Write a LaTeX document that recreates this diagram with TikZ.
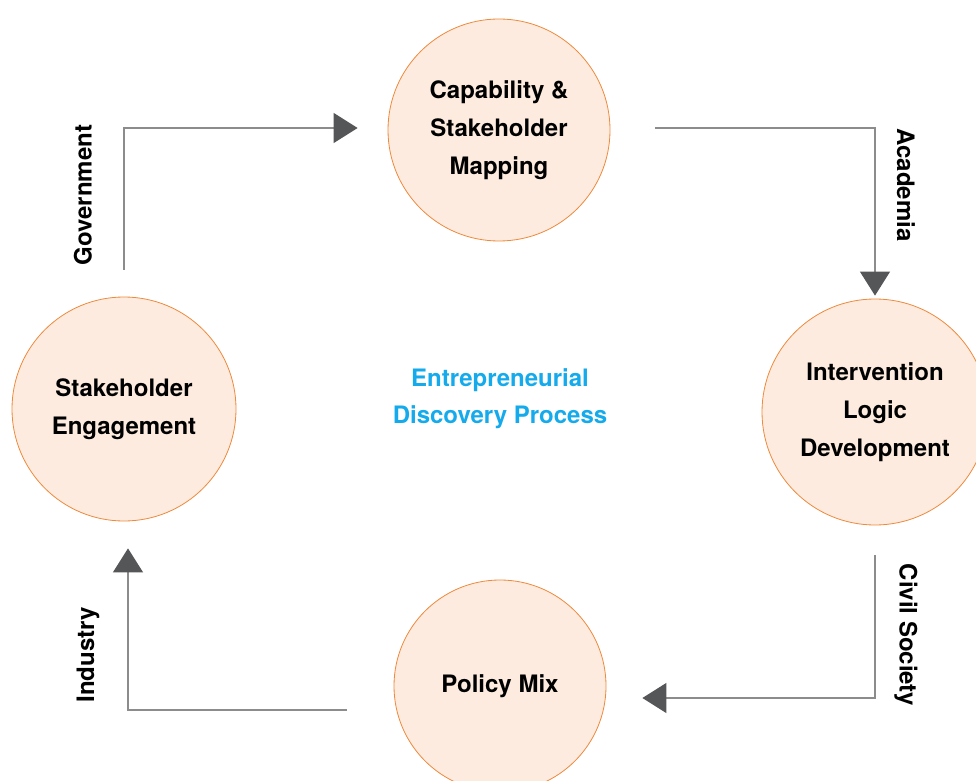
\documentclass[tikz,border=0pt]{standalone}
\usepackage{fontspec}
\setmainfont{TeX Gyre Heros}
\usetikzlibrary{arrows.meta,positioning}
\definecolor{peachfill}{RGB}{252,235,222}
\definecolor{ringorange}{RGB}{239,137,60}
\definecolor{linegray}{RGB}{140,140,140}
\definecolor{headgray}{RGB}{85,86,88}
\definecolor{edpblue}{RGB}{20,170,235}

\begin{document}
\begin{tikzpicture}[x=1pt, y=1pt,
    stage/.style={draw=ringorange, circle, fill=peachfill, line width=0.8pt, inner sep=0pt, align=center, font=\fontsize{24}{38}\selectfont\bfseries},
    flow/.style={draw=linegray, line width=1.2pt, -{Triangle[length=24pt, width=30pt, color=headgray]}},
    actor/.style={font=\fontsize{24}{29}\selectfont\bfseries}]
    \useasboundingbox (0,0) rectangle (976,780);
    \clip (0,0) rectangle (976,780);

    \node[stage, minimum size=222pt] (cap) at (499,650) {Capability \&\\Stakeholder\\Mapping};
    \node[stage, minimum size=226pt] (logic) at (875,368) {Intervention\\Logic\\Development};
    \node[stage, minimum size=212pt] (mix) at (500,94) {Policy Mix};
    \node[stage, minimum size=224pt] (engage) at (124,371) {Stakeholder\\Engagement};

    \node[align=center, text=edpblue, font=\fontsize{24}{37}\selectfont\bfseries] (edp) at (500,381) {Entrepreneurial\\Discovery Process};

    \draw[flow, shorten <=27pt, shorten >=30pt] (engage.north) |- ([yshift=2pt]cap.west);
    \draw[flow, shorten <=45pt, shorten >=3pt] ([yshift=2pt]cap.east) -| (logic.north);
    \draw[flow, shorten <=30pt, shorten >=36pt] (logic.south) |- ([yshift=-12pt]mix.east);
    \draw[flow, shorten <=47pt, shorten >=27pt] ([yshift=-24pt]mix.west) -| ([xshift=4pt]engage.south);

    \node[actor, rotate=90] (gov) at (83,585) {Government};
    \node[actor, rotate=-90] (acad) at (906,595) {Academia};
    \node[actor, rotate=-90] (civil) at (906,145) {Civil Society};
    \node[actor, rotate=90] (ind) at (88,125) {Industry};
\end{tikzpicture}
\end{document}
